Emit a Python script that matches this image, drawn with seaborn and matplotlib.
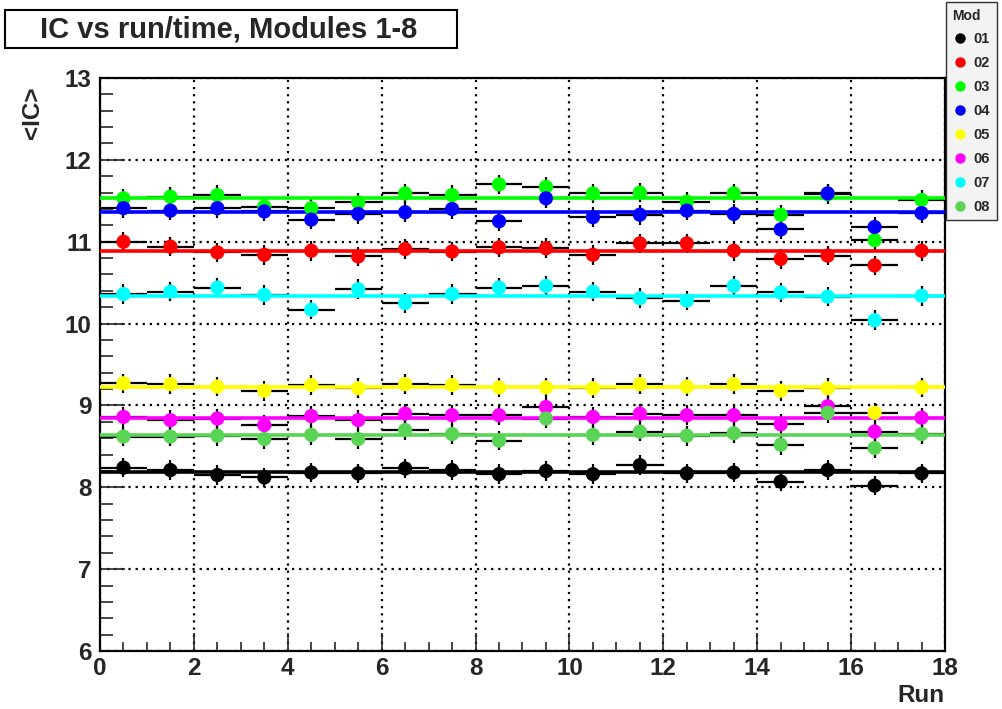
import numpy as np
import pandas as pd
import matplotlib
matplotlib.use("Agg")
import matplotlib.pyplot as plt
import seaborn as sns
from matplotlib.ticker import MultipleLocator
from matplotlib.lines import Line2D
from matplotlib.patches import Rectangle

# ---------------- data ----------------
runs = [0.5, 1.5, 2.5, 3.5, 4.5, 5.5, 6.5, 7.5, 8.5, 9.5, 10.5, 11.5, 12.5, 13.5, 14.5, 15.5, 16.5, 17.5]
modules = ["01", "02", "03", "04", "05", "06", "07", "08"]
mod01 = [8.24, 8.21, 8.15, 8.12, 8.18, 8.17, 8.23, 8.21, 8.16, 8.20, 8.16, 8.27, 8.17, 8.18, 8.07, 8.21, 8.02, 8.17]
mod02 = [11.00, 10.94, 10.87, 10.84, 10.89, 10.82, 10.91, 10.88, 10.93, 10.92, 10.84, 10.98, 10.98, 10.89, 10.79, 10.83, 10.71, 10.89]
mod03 = [11.53, 11.55, 11.57, 11.43, 11.41, 11.48, 11.59, 11.57, 11.70, 11.67, 11.59, 11.60, 11.49, 11.59, 11.33, 11.58, 11.02, 11.51]
mod04 = [11.41, 11.38, 11.41, 11.37, 11.27, 11.34, 11.36, 11.40, 11.25, 11.53, 11.30, 11.33, 11.38, 11.34, 11.15, 11.59, 11.18, 11.35]
mod05 = [9.27, 9.26, 9.23, 9.18, 9.25, 9.21, 9.26, 9.25, 9.22, 9.22, 9.21, 9.26, 9.23, 9.26, 9.18, 9.21, 8.91, 9.22]
mod06 = [8.86, 8.82, 8.84, 8.76, 8.87, 8.82, 8.90, 8.88, 8.88, 8.98, 8.86, 8.90, 8.88, 8.88, 8.77, 8.99, 8.68, 8.85]
mod07 = [10.36, 10.39, 10.44, 10.35, 10.17, 10.42, 10.25, 10.36, 10.44, 10.46, 10.39, 10.31, 10.28, 10.46, 10.38, 10.33, 10.04, 10.34]
mod08 = [8.62, 8.62, 8.63, 8.59, 8.64, 8.59, 8.70, 8.65, 8.57, 8.84, 8.64, 8.68, 8.63, 8.66, 8.52, 8.91, 8.48, 8.65]
fit_values = [8.19, 10.89, 11.53, 11.36, 9.23, 8.85, 10.34, 8.64]
X_ERR = 0.5
Y_ERR = 0.12
colors = ["#000000", "#ff0000", "#00ff00", "#0000ff", "#ffff00", "#ff00ff", "#00ffff", "#59d454"]

series = [mod01, mod02, mod03, mod04, mod05, mod06, mod07, mod08]
df = pd.concat(
    [pd.DataFrame({"run": runs, "ic": vals, "mod": m}) for m, vals in zip(modules, series)],
    ignore_index=True,
)
palette = dict(zip(modules, colors))

# ---------------- style ----------------
sns.set_style("ticks")
plt.rcParams["font.family"] = ["Liberation Sans", "DejaVu Sans"]
plt.rcParams["font.weight"] = "bold"

W, H = 1003, 709
fig = plt.figure(figsize=(W / 100, H / 100), dpi=100)
fig.patch.set_facecolor("white")

def fx(px):
    return px / W

def fy(py):
    return 1 - py / H

ax = fig.add_axes([fx(100), fy(651), fx(945) - fx(100), fy(78) - fy(651)])
ax.set_facecolor("white")

# error bars
ax.errorbar(df["run"], df["ic"], xerr=X_ERR, yerr=Y_ERR, fmt="none",
            ecolor="black", elinewidth=1.6, capsize=0, zorder=2)
# fit lines
for m, fv in zip(modules, fit_values):
    ax.hlines(fv, 0, 18, color=palette[m], lw=2.6, zorder=3)
# markers
sns.scatterplot(data=df, x="run", y="ic", hue="mod", palette=palette, s=105,
                linewidth=0, legend=False, zorder=5, ax=ax)

ax.set_xlim(0, 18)
ax.set_ylim(6, 13)
ax.xaxis.set_major_locator(MultipleLocator(2))
ax.xaxis.set_minor_locator(MultipleLocator(0.5))
ax.yaxis.set_major_locator(MultipleLocator(1))
ax.yaxis.set_minor_locator(MultipleLocator(0.2))
ax.grid(True, which="major", color="black", linestyle=(0, (1, 2.2)), linewidth=1.6, zorder=1)
ax.set_axisbelow(True)

ax.tick_params(axis="x", which="major", direction="in", length=13, width=1.2,
               labelsize=17.5, pad=4, top=False)
ax.tick_params(axis="x", which="minor", direction="in", length=6.5, width=1.2, top=False)
ax.tick_params(axis="y", which="major", direction="in", length=18, width=1.2,
               labelsize=17.5, pad=6, right=False)
ax.tick_params(axis="y", which="minor", direction="in", length=9, width=1.2, right=False)
for lab in ax.get_xticklabels() + ax.get_yticklabels():
    lab.set_fontweight("bold")
for sp in ax.spines.values():
    sp.set_linewidth(1.6)
    sp.set_color("black")

ax.set_xlabel("Run", fontsize=17.5, fontweight="bold", loc="right")
ax.xaxis.set_label_coords(1.0, -0.058)
ax.set_ylabel("<IC>", fontsize=17.5, fontweight="bold", loc="top")
ax.yaxis.set_label_coords(-0.066, 0.985)

# title box
fig.add_artist(Rectangle((fx(5), fy(48)), fx(457) - fx(5), fy(10) - fy(48),
                         transform=fig.transFigure, facecolor="white",
                         edgecolor="black", linewidth=1.5))
fig.text(fx(229), fy(29), "IC vs run/time, Modules 1-8", fontsize=21,
         fontweight="bold", ha="center", va="center")

# legend
handles = [Line2D([], [], marker="o", linestyle="", color=palette[m],
                  markersize=7.5, markeredgewidth=0) for m in modules]
leg = fig.legend(handles, modules, title="Mod", loc="upper left",
                 bbox_to_anchor=(fx(946), fy(2)), bbox_transform=fig.transFigure,
                 frameon=True, fancybox=False, fontsize=10.5, title_fontsize=10,
                 labelspacing=0.68, handletextpad=0.45, handlelength=1.0,
                 borderpad=0.45, borderaxespad=0, alignment="left")
leg.get_frame().set_facecolor("#f0f0f0")
leg.get_frame().set_edgecolor("black")
leg.get_frame().set_linewidth(1.0)
leg.get_title().set_fontweight("bold")
for t in leg.get_texts():
    t.set_fontweight("bold")

fig.savefig("out.png", dpi=100)
